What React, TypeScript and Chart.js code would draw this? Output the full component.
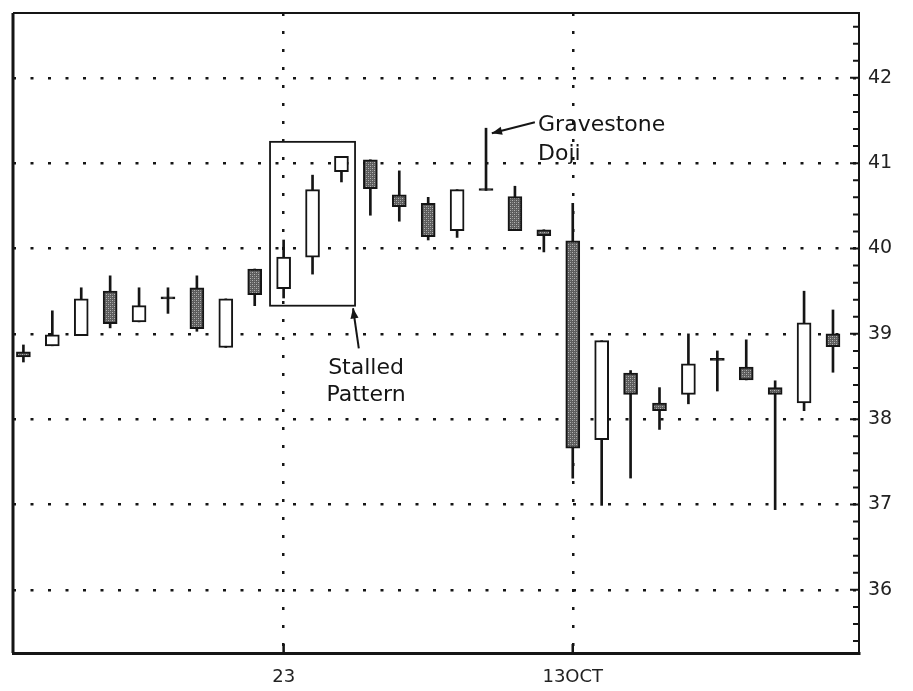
import React, { useEffect, useRef } from 'react';
import { Chart, registerables } from 'chart.js';

Chart.register(...registerables);

// ---- data (one candle per trading day, index 0..28) ----
const opens = [38.79, 38.86, 38.98, 39.5, 39.14, 39.41, 39.54, 38.84, 39.76, 39.53, 39.9, 40.9, 41.04, 40.63, 40.53, 40.21, 40.68, 40.61, 40.22, 40.09, 37.76, 38.54, 38.19, 38.29, 38.69, 38.61, 38.37, 38.19, 39.0];
const highs = [38.87, 39.27, 39.54, 39.68, 39.54, 39.54, 39.68, 39.41, 39.76, 40.1, 40.86, 41.08, 41.04, 40.91, 40.6, 40.69, 41.41, 40.73, 40.22, 40.53, 38.92, 38.57, 38.37, 39.0, 38.8, 38.93, 38.45, 39.5, 39.28];
const lows = [38.67, 38.86, 38.98, 39.07, 39.14, 39.24, 39.03, 38.84, 39.33, 39.42, 39.7, 40.78, 40.39, 40.32, 40.1, 40.13, 40.68, 40.21, 39.96, 37.31, 36.99, 37.31, 37.88, 38.18, 38.33, 38.46, 36.94, 38.1, 38.55];
const closes = [38.73, 38.99, 39.41, 39.12, 39.33, 39.41, 39.06, 39.41, 39.46, 39.9, 40.69, 41.08, 40.7, 40.49, 40.14, 40.69, 40.68, 40.21, 40.15, 37.66, 38.92, 38.29, 38.1, 38.65, 38.69, 38.46, 38.29, 39.13, 38.85];

const xTickIndex = [9, 19];
const xTickLabels = ['23', '13OCT'];
const yMin = 35.26;
const yMax = 42.76;
const xMin = -0.36;
const xMax = 28.9;

// ---- annotations (data coordinates) ----
const gravestoneLines = ['Gravestone', 'Doji'];
const gravestoneTextX = 17.8;
const gravestoneTextY = [41.44, 41.1];
const gravestoneArrow = { x0: 17.69, y0: 41.48, x1: 16.2, y1: 41.35 };
const stalledLines = ['Stalled', 'Pattern'];
const stalledTextX = 11.85;
const stalledTextY = [38.6, 38.28];
const stalledArrow = { x0: 11.6, y0: 38.83, x1: 11.4, y1: 39.3 };
const stalledBox = { x0: 8.53, x1: 11.47, y0: 39.33, y1: 41.25 };

const INK = '#151515';
const FONT = '"DejaVu Sans", "Liberation Sans", sans-serif';

function isStep(v: number, step: number) {
  const q = v / step;
  return Math.abs(q - Math.round(q)) < 1e-6;
}

function drawArrow(ctx: CanvasRenderingContext2D, x0: number, y0: number, x1: number, y1: number) {
  ctx.beginPath();
  ctx.moveTo(x0, y0);
  ctx.lineTo(x1, y1);
  ctx.stroke();
  const ang = Math.atan2(y1 - y0, x1 - x0);
  const len = 11;
  const w = 0.38;
  ctx.beginPath();
  ctx.moveTo(x1, y1);
  ctx.lineTo(x1 - len * Math.cos(ang - w), y1 - len * Math.sin(ang - w));
  ctx.lineTo(x1 - len * Math.cos(ang + w), y1 - len * Math.sin(ang + w));
  ctx.closePath();
  ctx.fill();
}

const overlay = {
  id: 'overlay',
  afterDraw(chart: any) {
    const { ctx, chartArea: a } = chart;
    const x = chart.scales.x;
    const y = chart.scales.y;
    ctx.save();
    ctx.strokeStyle = INK;
    ctx.fillStyle = INK;
    // frame: left and top
    ctx.lineWidth = 3;
    ctx.beginPath();
    ctx.moveTo(a.left, a.bottom);
    ctx.lineTo(a.left, a.top);
    ctx.stroke();
    ctx.lineWidth = 2;
    ctx.beginPath();
    ctx.moveTo(a.left, a.top);
    ctx.lineTo(a.right, a.top);
    ctx.stroke();
    // inward ticks on the right axis
    ctx.lineWidth = 2;
    ctx.beginPath();
    y.ticks.forEach((t: any) => {
      if (!isStep(t.value, 0.2)) return;
      const py = y.getPixelForValue(t.value);
      const len = isStep(t.value, 1) ? 9 : 6;
      ctx.moveTo(a.right - len, py);
      ctx.lineTo(a.right, py);
    });
    ctx.stroke();
    // inward ticks on the bottom axis
    ctx.lineWidth = 2.5;
    ctx.beginPath();
    xTickIndex.forEach((v) => {
      const px = x.getPixelForValue(v);
      ctx.moveTo(px, a.bottom);
      ctx.lineTo(px, a.bottom - 9);
    });
    ctx.stroke();
    // stalled pattern box
    const bx0 = x.getPixelForValue(stalledBox.x0);
    const bx1 = x.getPixelForValue(stalledBox.x1);
    const by0 = y.getPixelForValue(stalledBox.y0);
    const by1 = y.getPixelForValue(stalledBox.y1);
    ctx.lineWidth = 1.8;
    ctx.strokeRect(bx0, by1, bx1 - bx0, by0 - by1);
    // arrows
    ctx.lineWidth = 2;
    drawArrow(ctx, x.getPixelForValue(gravestoneArrow.x0), y.getPixelForValue(gravestoneArrow.y0),
      x.getPixelForValue(gravestoneArrow.x1), y.getPixelForValue(gravestoneArrow.y1));
    drawArrow(ctx, x.getPixelForValue(stalledArrow.x0), y.getPixelForValue(stalledArrow.y0),
      x.getPixelForValue(stalledArrow.x1), y.getPixelForValue(stalledArrow.y1));
    // texts
    ctx.font = `22px ${FONT}`;
    ctx.textBaseline = 'middle';
    ctx.textAlign = 'left';
    gravestoneLines.forEach((s, i) => {
      ctx.fillText(s, x.getPixelForValue(gravestoneTextX), y.getPixelForValue(gravestoneTextY[i]));
    });
    ctx.textAlign = 'center';
    stalledLines.forEach((s, i) => {
      ctx.fillText(s, x.getPixelForValue(stalledTextX), y.getPixelForValue(stalledTextY[i]));
    });
    ctx.restore();
  },
};

function makePattern(): CanvasPattern | string {
  const c = document.createElement('canvas');
  c.width = 4;
  c.height = 4;
  const g = c.getContext('2d');
  if (!g) return '#777';
  g.fillStyle = '#5c5c5c';
  g.fillRect(0, 0, 4, 4);
  g.fillStyle = '#b5b5b5';
  g.fillRect(0, 0, 1, 1);
  g.fillRect(2, 2, 1, 1);
  g.fillStyle = '#8a8a8a';
  g.fillRect(2, 0, 1, 1);
  g.fillRect(0, 2, 1, 1);
  const p = g.createPattern(c, 'repeat');
  return p || '#777';
}

export default function App() {
  const ref = useRef<HTMLCanvasElement | null>(null);

  useEffect(() => {
    if (!ref.current) return;
    const pattern = makePattern();
    const idx = opens.map((_, i) => i);
    const bodyColors = idx.map((i) =>
      opens[i] === closes[i] ? INK : closes[i] > opens[i] ? '#ffffff' : pattern
    );
    const chart = new Chart(ref.current, {
      type: 'bar',
      data: {
        datasets: [
          {
            label: 'body',
            data: idx.map((i) => ({ x: i, y: [opens[i], closes[i]] })) as any,
            backgroundColor: bodyColors as any,
            borderColor: INK,
            borderWidth: 2,
            borderSkipped: false,
            barThickness: 14,
            minBarLength: 2,
            grouped: false,
          } as any,
          {
            label: 'wick',
            data: idx.map((i) => ({ x: i, y: [lows[i], highs[i]] })) as any,
            backgroundColor: INK,
            borderWidth: 0,
            barThickness: 2,
            grouped: false,
          } as any,
        ],
      },
      options: {
        animation: false,
        responsive: true,
        maintainAspectRatio: false,
        events: [],
        layout: { padding: { left: 13, top: 13, right: 0, bottom: 0 } },
        plugins: { legend: { display: false }, tooltip: { enabled: false } },
        scales: {
          x: {
            type: 'linear',
            min: xMin,
            max: xMax,
            offset: false,
            afterBuildTicks: (s: any) => {
              s.ticks = xTickIndex.map((v) => ({ value: v }));
            },
            afterFit: (s: any) => {
              s.height = 38;
              s.paddingLeft = 0;
              s.paddingRight = 0;
            },
            ticks: {
              autoSkip: false,
              maxRotation: 0,
              padding: 14,
              color: '#222',
              font: { family: FONT, size: 18 },
              callback: (v: any) => {
                const k = xTickIndex.indexOf(Number(v));
                return k >= 0 ? xTickLabels[k] : '';
              },
            },
            grid: { color: INK, lineWidth: 2.5, drawTicks: false, offset: false },
            border: { display: true, color: INK, width: 3, dash: [3, 15] },
          } as any,
          y: {
            type: 'linear',
            position: 'right',
            min: yMin,
            max: yMax,
            afterFit: (s: any) => {
              s.width = 54;
              s.paddingTop = 0;
              s.paddingBottom = 0;
            },
            ticks: {
              stepSize: 0.2,
              includeBounds: false,
              autoSkip: false,
              padding: 9,
              color: '#222',
              font: { family: FONT, size: 19 },
              callback: (v: any) => (isStep(Number(v), 1) ? String(Math.round(Number(v))) : ''),
            },
            grid: {
              drawTicks: false,
              lineWidth: 2.5,
              color: (c: any) => (c.tick && isStep(c.tick.value, 1) ? INK : 'rgba(0,0,0,0)'),
            },
            border: { display: true, color: INK, width: 2, dash: [3, 14.5] },
          } as any,
        },
      },
      plugins: [overlay],
    });
    return () => chart.destroy();
  }, []);

  return (
    <div style={{ position: 'fixed', left: 0, top: 0, width: 913, height: 691, background: '#fff' }}>
      <canvas ref={ref} />
    </div>
  );
}
